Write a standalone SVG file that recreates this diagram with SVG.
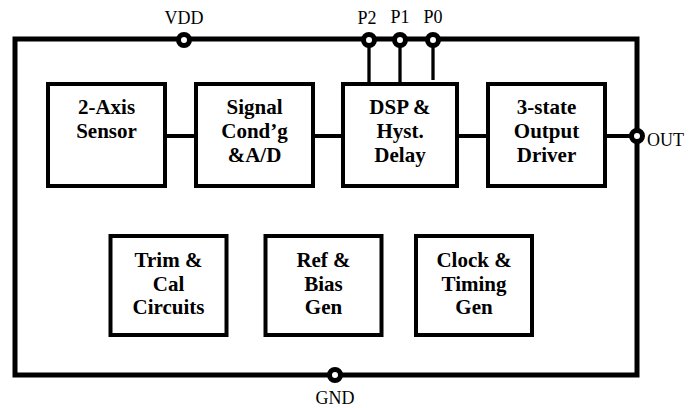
<svg xmlns="http://www.w3.org/2000/svg" width="700" height="408" viewBox="0 0 700 408">
<style>
.blk{fill:#fff;stroke:#000;stroke-width:4}
.b{font-family:"Liberation Serif","Times New Roman",serif;font-weight:bold;font-size:21px;text-anchor:middle;fill:#000}
.l{font-family:"Liberation Serif","Times New Roman",serif;font-size:18px;fill:#000}
.wire{stroke:#000;stroke-width:4;fill:none}
.pinl{stroke:#000;stroke-width:3.3;fill:none}
.pin{fill:#fff;stroke:#000;stroke-width:5}
</style>
<rect width="700" height="408" fill="#fff"/>
<g id="package">
<rect x="15" y="39" width="622" height="336" fill="none" stroke="#000" stroke-width="5"/>
</g>
<g id="connectors">
<line class="wire" x1="166" y1="136" x2="195" y2="136"/>
<line class="wire" x1="314" y1="136" x2="343" y2="136"/>
<line class="wire" x1="457" y1="136" x2="488" y2="136"/>
<line class="wire" x1="605" y1="136" x2="637" y2="136"/>
<line class="pinl" x1="369" y1="40" x2="369" y2="84"/>
<line class="pinl" x1="400" y1="40" x2="400" y2="84"/>
<line class="pinl" x1="433" y1="40" x2="433" y2="80"/>
</g>
<g id="sensor">
<rect class="blk" x="48" y="84" width="117" height="102"/>
<text class="b" x="106.5" y="114">2-Axis</text>
<text class="b" x="106.5" y="138">Sensor</text>
</g>
<g id="signal">
<rect class="blk" x="196" y="84" width="117" height="102"/>
<text class="b" x="254.5" y="114">Signal</text>
<text class="b" x="254.5" y="138">Cond’g</text>
<text class="b" x="254.5" y="161.5">&amp;A/D</text>
</g>
<g id="dsp">
<rect class="blk" x="343" y="84" width="114" height="102"/>
<text class="b" x="400" y="114">DSP &amp;</text>
<text class="b" x="400" y="138">Hyst.</text>
<text class="b" x="400" y="161.5">Delay</text>
</g>
<g id="driver">
<rect class="blk" x="488" y="84" width="117" height="102"/>
<text class="b" x="546.5" y="114">3-state</text>
<text class="b" x="546.5" y="138">Output</text>
<text class="b" x="546.5" y="161.5">Driver</text>
</g>
<g id="trim">
<rect class="blk" x="110.5" y="236" width="116" height="99"/>
<text class="b" x="168.5" y="266.5">Trim &amp;</text>
<text class="b" x="168.5" y="290.5">Cal</text>
<text class="b" x="168.5" y="314">Circuits</text>
</g>
<g id="ref">
<rect class="blk" x="265.5" y="236" width="116" height="99"/>
<text class="b" x="323.5" y="266.5">Ref &amp;</text>
<text class="b" x="323.5" y="290.5">Bias</text>
<text class="b" x="323.5" y="314">Gen</text>
</g>
<g id="clock">
<rect class="blk" x="416" y="236" width="116" height="99"/>
<text class="b" x="474" y="266.5">Clock &amp;</text>
<text class="b" x="474" y="290.5">Timing</text>
<text class="b" x="474" y="314">Gen</text>
</g>
<g id="vdd">
<circle class="pin" cx="184" cy="40" r="5.5"/>
<text class="l" x="184" y="24" text-anchor="middle">VDD</text>
</g>
<g id="p2">
<circle class="pin" cx="369" cy="40" r="5.5"/>
<text class="l" x="367" y="24" text-anchor="middle">P2</text>
</g>
<g id="p1">
<circle class="pin" cx="400" cy="40" r="5.5"/>
<text class="l" x="400" y="23" text-anchor="middle">P1</text>
</g>
<g id="p0">
<circle class="pin" cx="433" cy="40" r="5.5"/>
<text class="l" x="433" y="23" text-anchor="middle">P0</text>
</g>
<g id="out">
<circle class="pin" cx="637" cy="136" r="5.5"/>
<text class="l" x="647" y="146">OUT</text>
</g>
<g id="gnd">
<circle class="pin" cx="335" cy="375" r="5.5"/>
<text class="l" x="335" y="404" text-anchor="middle">GND</text>
</g>
</svg>
